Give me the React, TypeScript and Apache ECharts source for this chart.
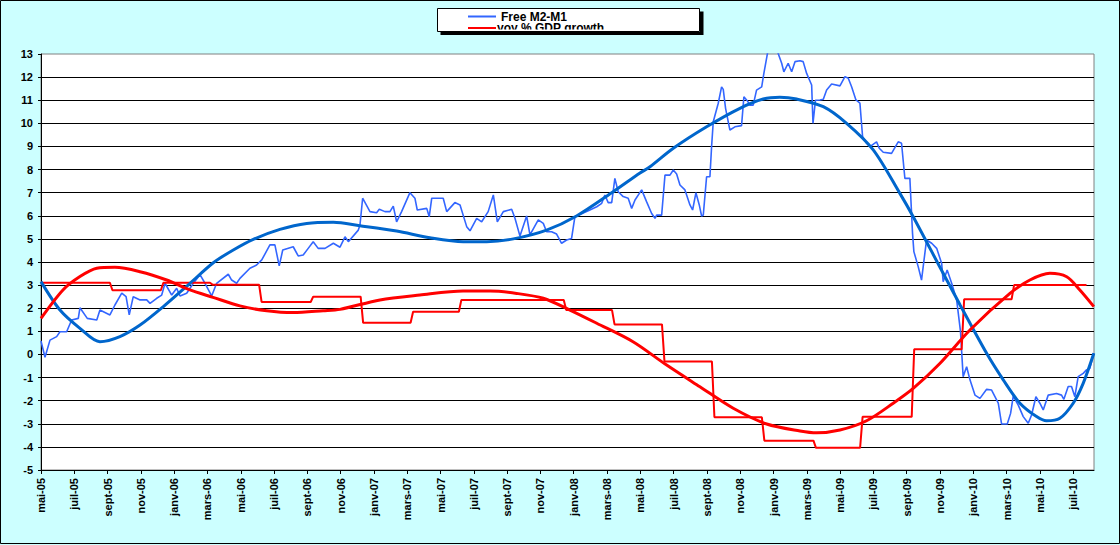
import React, { useEffect, useRef } from "react";
import * as echarts from "echarts";

// x values are months elapsed since 1 May 2005
const MONTH_LABELS = [
  "mai-05", "juil-05", "sept-05", "nov-05",
  "janv-06", "mars-06", "mai-06", "juil-06", "sept-06", "nov-06",
  "janv-07", "mars-07", "mai-07", "juil-07", "sept-07", "nov-07",
  "janv-08", "mars-08", "mai-08", "juil-08", "sept-08", "nov-08",
  "janv-09", "mars-09", "mai-09", "juil-09", "sept-09", "nov-09",
  "janv-10", "mars-10", "mai-10", "juil-10",
];

const Y_MIN = -5;
const Y_MAX = 13;
const X_MAX = 63.25;

// Free M2-M1 (weekly, thin blue)
const m2m1Month = [
  0.0, 0.24, 0.54, 0.94, 1.14, 1.54, 1.84, 2.24, 2.34, 2.78, 3.35, 3.54, 4.14, 4.44, 4.85, 5.11, 5.3, 5.54,
  5.95, 6.35, 6.55, 6.95, 7.25, 7.45, 7.85, 8.15, 8.35, 8.75, 9.15, 9.55, 9.85, 10.25, 10.55, 11.25, 11.45,
  11.75, 11.95, 12.55, 12.95, 13.26, 13.75, 14.05, 14.31, 14.52, 15.15, 15.45, 15.75, 16.05, 16.35, 16.65,
  17.06, 17.56, 17.96, 18.26, 18.46, 19.06, 19.16, 19.32, 19.76, 20.16, 20.32, 20.66, 20.96, 21.16, 21.36,
  21.66, 22.16, 22.46, 22.6, 23.17, 23.32, 23.47, 24.16, 24.37, 24.86, 25.17, 25.57, 25.77, 26.17, 26.47,
  26.86, 27.17, 27.41, 27.77, 28.27, 28.47, 28.77, 29.17, 29.37, 29.87, 30.17, 30.37, 30.67, 30.97, 31.27,
  31.57, 31.87, 32.07, 32.97, 33.38, 33.68, 33.87, 34.07, 34.28, 34.47, 34.67, 34.97, 35.27, 35.48, 35.68,
  36.08, 36.38, 36.68, 36.88, 36.98, 37.28, 37.48, 37.78, 37.98, 38.18, 38.38, 38.68, 38.98, 39.14, 39.34,
  39.54, 39.68, 39.78, 39.98, 40.18, 40.28, 40.38, 40.68, 40.88, 40.98, 41.12, 41.38, 41.68, 42.08, 42.22,
  42.42, 42.58, 42.78, 42.98, 43.29, 43.42, 43.68, 44.19, 44.49, 44.62, 44.88, 45.09, 45.29, 45.59, 45.78,
  45.99, 46.29, 46.37, 46.52, 46.79, 46.99, 47.19, 47.49, 47.99, 48.29, 48.49, 48.69, 48.95, 49.19, 49.35,
  49.59, 49.79, 50.19, 50.35, 50.59, 51.09, 51.49, 51.69, 51.89, 52.19, 52.35, 52.43, 52.69, 52.89, 53.19,
  53.5, 53.8, 54.1, 54.19, 54.43, 54.7, 55.0, 55.23, 55.39, 55.6, 55.8, 56.1, 56.4, 56.8, 57.1, 57.5, 57.7,
  58.04, 58.24, 58.4, 58.7, 59.0, 59.3, 59.5, 59.76, 60.0, 60.2, 60.5, 61.0, 61.3, 61.44, 61.7, 61.9, 62.1,
  62.3, 62.6, 62.8, 63.0, 63.24,
];
const m2m1Value = [
  0.58, -0.12, 0.62, 0.77, 0.98, 0.98, 1.49, 1.56, 2.02, 1.56, 1.49, 1.92, 1.71, 2.14, 2.65, 2.5, 1.71, 2.5,
  2.36, 2.36, 2.21, 2.43, 2.57, 3.08, 2.57, 2.86, 2.53, 2.65, 3.08, 3.45, 3.08, 2.53, 3.08, 3.47, 3.22,
  3.08, 3.29, 3.73, 3.87, 4.09, 4.74, 4.74, 3.83, 4.52, 4.66, 4.26, 4.3, 4.59, 4.88, 4.59,
  4.59, 4.81, 4.64, 5.09, 4.88, 5.38, 5.6, 6.76, 6.18, 6.13, 6.28, 6.18, 6.18, 6.42, 5.74,
  6.18, 7.0, 6.76, 6.25, 6.32, 5.96, 6.76, 6.76, 6.18, 6.57, 6.47, 5.53, 5.35, 5.89, 5.74,
  6.18, 6.9, 5.74, 6.18, 6.28, 5.89, 5.12, 5.99, 5.17, 5.82, 5.67, 5.31, 5.31, 5.21, 4.81,
  4.95, 5.02, 5.96, 6.25, 6.39, 6.54, 6.9, 6.57, 6.57, 7.62, 7.04, 6.83, 6.76, 6.32, 6.68,
  7.12, 6.6, 6.1, 5.89, 6.03, 6.03, 7.76, 7.76, 7.98, 7.81, 7.33, 7.12, 6.47, 6.25, 7.0,
  6.47, 5.99, 6.03, 7.69, 7.69, 8.99, 10.07, 10.87, 11.58, 11.47, 10.65, 9.71, 9.85, 9.9, 11.15,
  10.98, 10.79, 10.79, 11.44, 11.58, 12.16, 13.2, 13.2, 12.6, 12.23, 12.6, 12.23, 12.67, 12.71, 12.67,
  12.16, 11.66, 10.0, 11.0, 11.01, 11.04, 11.44, 11.7, 11.62, 12.02, 11.95, 11.58, 11.01, 10.87, 9.42,
  9.14, 8.99, 9.2, 8.92, 8.75, 8.7, 9.2, 9.14, 7.62, 7.62, 5.24, 4.45, 3.8, 3.22, 4.95,
  4.81, 4.59, 3.94, 3.15, 3.65, 3.08, 2.36, 1.0, -0.96, -0.53, -1.1, -1.76, -1.9, -1.51, -1.54, -2.11, -3.01,
  -3.01, -2.55, -1.8, -2.19, -2.69, -2.98, -2.62, -1.83, -2.11, -2.4, -1.76, -1.69, -1.76, -1.94, -1.39, -1.39, -1.83,
  -0.96, -0.82, -0.67, -0.6, 0.05,
];

// Trend of Free M2-M1 (thick blue)
const m2m1TrendMonth = [
  0, 1.14, 2.34, 3.54, 4.74, 5.95, 7.35, 8.95, 10.35, 11.55, 12.75, 14.35, 15.96, 17.56, 19.16, 21.36,
  23.36, 25.36, 26.77, 28.37, 30.37, 32.17, 34.37, 35.98, 36.58, 37.98, 39.98, 41.98, 43.38, 44.38, 45.39,
  46.99, 48.39, 49.99, 51.59, 52.39, 54.19, 55.2, 56.8, 57.8, 58.8, 59.8, 60.4, 61.2, 62.0, 62.6, 63.24,
];
const m2m1TrendValue = [
  3.15, 1.92, 1.13, 0.55, 0.77, 1.27, 2.07, 3.08, 3.97, 4.52, 4.98, 5.41, 5.67, 5.72, 5.57, 5.34,
  5.05, 4.88, 4.88, 5.0, 5.38, 5.99, 7.04, 7.85, 8.12, 8.92, 9.85, 10.65, 11.05, 11.13, 11.05,
  10.72, 10.0, 8.85, 6.97, 5.96, 3.51, 2.15, 0.05, -1.1, -2.11, -2.69, -2.87, -2.76, -2.11, -1.25, 0.05,
];

// yoy % GDP growth (quarterly steps, thin red)
const gdpQuarterStart = [
  0, 4.14, 7.2, 10.15, 13.1, 16.2, 19.2, 22.2, 25.1, 28.1, 31.4, 34.3, 37.3, 40.3, 43.3, 46.4, 49.2, 52.3,
  55.3, 58.3,
];
const gdpLastMonth = 62.8;
const gdpValue = [
  3.1, 2.78, 3.1, 3.02, 2.27, 2.5, 1.37, 1.85, 2.36, 2.36, 1.92, 1.3, -0.31, -2.72, -3.73, -4.04, -2.7, 0.22,
  2.39, 3.0,
];

// Trend of GDP growth (thick red)
const gdpTrendMonth = [
  0, 1.32, 2.34, 3.35, 4.44, 5.95, 7.55, 8.95, 10.33, 11.95, 13.56, 15.15, 16.95, 17.96, 20.36, 22.76,
  25.35, 26.97, 28.57, 30.17, 31.77, 33.38, 35.56, 37.58, 39.58, 41.58, 43.59, 45.59, 46.59, 47.99, 49.59,
  51.19, 52.39, 53.99, 55.8, 58.2, 59.4, 60.6, 61.61, 62.4, 63.24,
];
const gdpTrendValue = [
  1.56, 2.79, 3.37, 3.73, 3.77, 3.58, 3.22, 2.79, 2.47, 2.1, 1.89, 1.81, 1.89, 1.95, 2.36, 2.57,
  2.74, 2.74, 2.64, 2.43, 1.92, 1.35, 0.55, -0.46, -1.4, -2.33, -3.01, -3.31, -3.39, -3.27, -2.87,
  -2.11, -1.47, -0.39, 1.06, 2.64, 3.22, 3.51, 3.36, 2.79, 2.07,
];

const LEGEND_NAMES = ["Free M2-M1", "yoy % GDP growth"];

const FONT = "'Liberation Sans', Arial, sans-serif";

function pairs(xs: number[], ys: number[]) {
  return xs.map((x, i) => [x, ys[i]]);
}

function gdpSteps() {
  const pts: number[][] = [];
  for (let i = 0; i < gdpValue.length; i++) {
    const s = gdpQuarterStart[i];
    const e = i + 1 < gdpQuarterStart.length ? gdpQuarterStart[i + 1] : gdpLastMonth;
    pts.push([i === 0 ? s : s + 0.15, gdpValue[i]]);
    pts.push([e, gdpValue[i]]);
  }
  return pts;
}

export default function App() {
  const ref = useRef<HTMLDivElement>(null);

  useEffect(() => {
    if (!ref.current) return;
    const chart = echarts.init(ref.current, null, { renderer: "svg" });
    const lineBase = {
      type: "line",
      showSymbol: false,
      symbol: "none",
      silent: true,
      clip: true,
    };
    chart.setOption({
      animation: false,
      backgroundColor: "#CCFFFF",
      grid: {
        left: 41,
        top: 54,
        right: 26,
        bottom: 75,
        show: true,
        backgroundColor: "#FFFFFF",
        borderColor: "#808080",
        borderWidth: 1,
      },
      xAxis: {
        type: "value",
        min: 0,
        max: X_MAX,
        interval: 2,
        axisLine: { show: true, onZero: false, lineStyle: { color: "#000", width: 1 } },
        axisTick: { show: true, inside: false, length: 4, lineStyle: { color: "#000" } },
        splitLine: { show: false },
        axisLabel: {
          rotate: 90,
          margin: 8,
          showMaxLabel: false,
          color: "#000",
          fontFamily: FONT,
          fontWeight: "bold",
          fontSize: 11,
          formatter: (v: number) => {
            const idx = Math.round(v / 2);
            return Math.abs(v - idx * 2) < 1e-6 ? MONTH_LABELS[idx] ?? "" : "";
          },
        },
      },
      yAxis: {
        type: "value",
        min: Y_MIN,
        max: Y_MAX,
        interval: 1,
        axisLine: { show: true, onZero: false, lineStyle: { color: "#000", width: 1 } },
        axisTick: { show: true, inside: false, length: 3, lineStyle: { color: "#000" } },
        splitLine: {
          show: true,
          showMinLine: false,
          showMaxLine: false,
          lineStyle: { color: "#000", width: 1 },
        },
        axisLabel: {
          margin: 8,
          color: "#000",
          fontFamily: FONT,
          fontWeight: "bold",
          fontSize: 11,
        },
      },
      series: [
        {
          ...lineBase,
          name: LEGEND_NAMES[0],
          data: pairs(m2m1Month, m2m1Value),
          lineStyle: { color: "#3366FF", width: 1.6 },
          z: 3,
        },
        {
          ...lineBase,
          name: LEGEND_NAMES[1],
          data: gdpSteps(),
          lineStyle: { color: "#FF0000", width: 2 },
          z: 3,
        },
        {
          ...lineBase,
          name: "trend M2-M1",
          data: pairs(m2m1TrendMonth, m2m1TrendValue),
          smooth: 0.3,
          lineStyle: { color: "#0066CC", width: 3 },
          z: 4,
        },
        {
          ...lineBase,
          name: "trend GDP",
          data: pairs(gdpTrendMonth, gdpTrendValue),
          smooth: 0.3,
          lineStyle: { color: "#FF0000", width: 3 },
          z: 4,
        },
      ],
      graphic: [
        {
          type: "rect",
          z: 100,
          silent: true,
          shape: { x: 437.5, y: 8.5, width: 262, height: 23 },
          style: { fill: "#FFFFFF", stroke: "none" },
        },
        {
          type: "line",
          z: 101,
          silent: true,
          shape: { x1: 468, y1: 16.5, x2: 496, y2: 16.5 },
          style: { stroke: "#3366FF", lineWidth: 2 },
        },
        {
          type: "text",
          z: 101,
          silent: true,
          x: 501,
          y: 16.5,
          style: {
            text: LEGEND_NAMES[0],
            fill: "#000",
            font: `bold 12px ${FONT}`,
            textVerticalAlign: "middle",
            verticalAlign: "middle",
          },
        },
        {
          type: "line",
          z: 101,
          silent: true,
          shape: { x1: 468, y1: 28, x2: 496, y2: 28 },
          style: { stroke: "#FF0000", lineWidth: 2 },
        },
        {
          type: "text",
          z: 101,
          silent: true,
          x: 497,
          y: 28,
          style: {
            text: LEGEND_NAMES[1],
            fill: "#000",
            font: `bold 12px ${FONT}`,
            verticalAlign: "middle",
          },
        },
        {
          type: "rect",
          z: 102,
          silent: true,
          shape: { x: 438, y: 29.5, width: 261, height: 2.5 },
          style: { fill: "#FFFFFF" },
        },
        {
          type: "rect",
          z: 102,
          silent: true,
          shape: { x: 430, y: 31.5, width: 290, height: 10 },
          style: { fill: "#CCFFFF" },
        },
        {
          type: "polygon",
          z: 103,
          silent: true,
          shape: {
            points: [
              [700, 11.5],
              [703.5, 11.5],
              [703.5, 35],
              [440.5, 35],
              [440.5, 32],
              [700, 32],
            ],
          },
          style: { fill: "#000" },
        },
        {
          type: "rect",
          z: 104,
          silent: true,
          shape: { x: 437.5, y: 8.5, width: 262, height: 23 },
          style: { fill: "none", stroke: "#000", lineWidth: 1 },
        },
        {
          type: "rect",
          z: 104,
          silent: true,
          shape: { x: 0.5, y: 0.5, width: 1119, height: 543 },
          style: { fill: "none", stroke: "#000", lineWidth: 1 },
        },
      ],
    });
    return () => chart.dispose();
  }, []);

  return (
    <div
      ref={ref}
      style={{ position: "absolute", left: 0, top: 0, width: 1120, height: 545 }}
    />
  );
}
